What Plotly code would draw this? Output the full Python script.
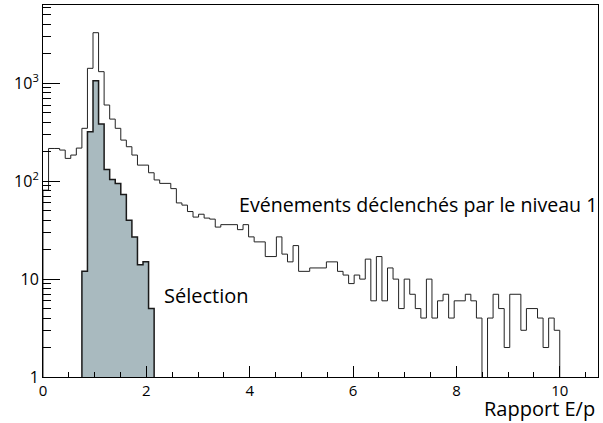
import numpy as np
import plotly.graph_objects as go

# Histogram binning: 93 bins between 0 and 10
x_low, x_high, n_bins = 0.0, 10.0, 93

# Events triggered by level 1 (counts per bin)
main_counts = [81, 216, 216, 208, 171, 185, 218, 347, 1423, 3290,
               1315, 600, 431, 347, 263, 225, 185, 146, 146, 122,
               103, 95, 95, 84, 60, 57, 49, 43, 46, 42,
               41, 34, 36, 36, 36, 32, 36, 27, 24, 24,
               17, 17, 27, 18, 15, 22, 12, 12, 13, 13,
               13, 15, 15, 12, 11, 9, 11, 10, 16, 6,
               17, 6, 13, 10, 5, 10, 7, 5, 4, 10,
               4, 6, 7, 4, 6, 6, 7, 6, 4, 0,
               4, 7, 5, 2, 7, 7, 3, 5, 5, 4,
               2, 4, 3]

# Selection (starts at bin index 7)
sel_first_bin = 7
sel_counts = [12, 320, 1064, 384, 132, 104, 95, 73, 40, 27, 14, 15, 5]

x_tick_vals = [0, 2, 4, 6, 8, 10]
y_tick_vals = [1, 10, 100, 1000]
y_tick_text = ["1", "10", "10<sup>2</sup>", "10<sup>3</sup>"]

label_main = "Evénements déclenchés par le niveau 1"
label_sel = "Sélection"
x_title = "Rapport E/p"

edges = np.linspace(x_low, x_high, n_bins + 1)
floor = 0.5


def step_path(bin_edges, counts):
    c = np.maximum(np.asarray(counts, dtype=float), floor)
    xs = [bin_edges[0]]
    ys = [floor]
    for i, v in enumerate(c):
        xs += [bin_edges[i], bin_edges[i + 1]]
        ys += [v, v]
    xs.append(bin_edges[-1])
    ys.append(floor)
    return xs, ys


sx, sy = step_path(edges[sel_first_bin:sel_first_bin + len(sel_counts) + 1], sel_counts)
mx, my = step_path(edges, main_counts)

fig = go.Figure()
fig.add_trace(go.Scatter(x=sx, y=sy, mode="lines", fill="toself",
                         fillcolor="#a9babf",
                         line=dict(color="#1a1a1a", width=1.5),
                         hoverinfo="skip", showlegend=False))
fig.add_trace(go.Scatter(x=mx, y=my, mode="lines",
                         line=dict(color="#222222", width=1),
                         hoverinfo="skip", showlegend=False))

font_family = "Open Sans, DejaVu Sans, sans-serif"

fig.update_layout(
    width=603, height=423,
    margin=dict(l=43, r=5, t=5, b=46),
    paper_bgcolor="white", plot_bgcolor="white",
    font=dict(family=font_family, color="black", size=15),
    xaxis=dict(range=[0, 10.74], showgrid=False, zeroline=False,
               showline=True, mirror=True, linecolor="black", linewidth=1,
               ticks="inside", ticklen=11, tickcolor="black",
               tickvals=x_tick_vals,
               minor=dict(ticks="inside", ticklen=5, dtick=0.5, tick0=0,
                          tickcolor="black", showgrid=False),
               tickfont=dict(size=15)),
    yaxis=dict(type="log", range=[0, 3.80], showgrid=False, zeroline=False,
               showline=True, mirror=True, linecolor="black", linewidth=1,
               ticks="inside", ticklen=17, tickcolor="black",
               tickvals=y_tick_vals, ticktext=y_tick_text,
               minor=dict(ticks="inside", ticklen=8, dtick="D1",
                          tickcolor="black", showgrid=False),
               tickfont=dict(size=16)),
    annotations=[
        dict(text=label_main, xref="paper", yref="paper", x=0.349, y=0.464,
             xanchor="left", yanchor="middle", showarrow=False,
             font=dict(size=19.6)),
        dict(text=label_sel, xref="paper", yref="paper", x=0.214, y=0.220,
             xanchor="left", yanchor="middle", showarrow=False,
             font=dict(size=20)),
        dict(text=x_title, xref="paper", yref="paper", x=0.998, y=-0.085,
             xanchor="right", yanchor="middle", showarrow=False,
             font=dict(size=20)),
    ],
)

fig.write_html("out.html", config={"displayModeBar": False},
               post_script="document.body.style.margin='0';")
